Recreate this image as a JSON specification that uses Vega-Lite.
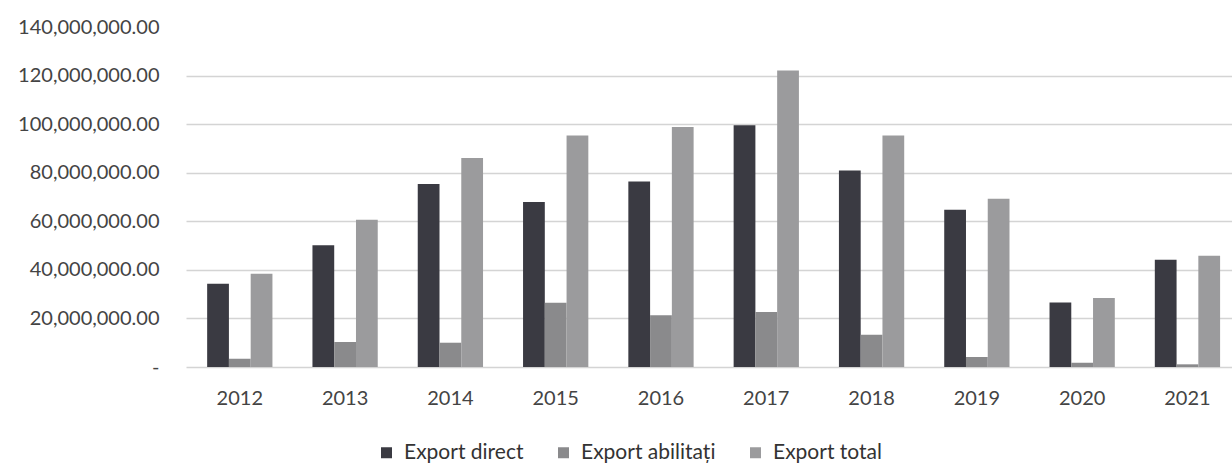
{
  "$schema": "https://vega.github.io/schema/vega-lite/v6.json",
  "autosize": "none",
  "width": 1046,
  "height": 340,
  "padding": {"left": 186, "top": 27, "right": 0, "bottom": 96},
  "background": "white",
  "config": {
    "view": {"stroke": null},
    "font": "Lato"
  },
  "data": {
    "values": [
      {"year": "2012", "series": "Export direct", "value": 34300000},
      {"year": "2012", "series": "Export abilitați", "value": 3400000},
      {"year": "2012", "series": "Export total", "value": 38400000},
      {"year": "2013", "series": "Export direct", "value": 50100000},
      {"year": "2013", "series": "Export abilitați", "value": 10300000},
      {"year": "2013", "series": "Export total", "value": 60600000},
      {"year": "2014", "series": "Export direct", "value": 75400000},
      {"year": "2014", "series": "Export abilitați", "value": 10000000},
      {"year": "2014", "series": "Export total", "value": 86100000},
      {"year": "2015", "series": "Export direct", "value": 67900000},
      {"year": "2015", "series": "Export abilitați", "value": 26500000},
      {"year": "2015", "series": "Export total", "value": 95300000},
      {"year": "2016", "series": "Export direct", "value": 76400000},
      {"year": "2016", "series": "Export abilitați", "value": 21300000},
      {"year": "2016", "series": "Export total", "value": 98800000},
      {"year": "2017", "series": "Export direct", "value": 99500000},
      {"year": "2017", "series": "Export abilitați", "value": 22600000},
      {"year": "2017", "series": "Export total", "value": 122100000},
      {"year": "2018", "series": "Export direct", "value": 80900000},
      {"year": "2018", "series": "Export abilitați", "value": 13300000},
      {"year": "2018", "series": "Export total", "value": 95300000},
      {"year": "2019", "series": "Export direct", "value": 64700000},
      {"year": "2019", "series": "Export abilitați", "value": 4100000},
      {"year": "2019", "series": "Export total", "value": 69300000},
      {"year": "2020", "series": "Export direct", "value": 26600000},
      {"year": "2020", "series": "Export abilitați", "value": 1800000},
      {"year": "2020", "series": "Export total", "value": 28400000},
      {"year": "2021", "series": "Export direct", "value": 44200000},
      {"year": "2021", "series": "Export abilitați", "value": 1100000},
      {"year": "2021", "series": "Export total", "value": 45800000}
    ]
  },
  "mark": {"type": "bar"},
  "encoding": {
    "x": {
      "field": "year",
      "type": "nominal",
      "scale": {"paddingInner": 0.38, "paddingOuter": 0.157, "align": 0.64},
      "axis": {
        "title": null,
        "labelAngle": 0,
        "ticks": false,
        "domain": false,
        "labelFontSize": 20,
        "labelColor": "#444444",
        "labelPadding": 21
      }
    },
    "xOffset": {
      "field": "series",
      "type": "nominal",
      "sort": ["Export direct", "Export abilitați", "Export total"],
      "scale": {"paddingInner": 0, "paddingOuter": 0}
    },
    "y": {
      "field": "value",
      "type": "quantitative",
      "scale": {"domain": [0, 140000000], "nice": false},
      "axis": {
        "title": null,
        "values": [0, 20000000, 40000000, 60000000, 80000000, 100000000, 120000000, 140000000],
        "labelExpr": "datum.value == 0 ? '-' : format(datum.value, ',.2f')",
        "ticks": false,
        "domain": false,
        "labelFontSize": 20,
        "labelColor": "#444444",
        "labelPadding": 27,
        "gridColor": {"condition": {"test": "datum.value == 140000000", "value": "transparent"}, "value": "#d4d4d4"},
        "gridWidth": 1.5
      }
    },
    "color": {
      "field": "series",
      "type": "nominal",
      "sort": ["Export direct", "Export abilitați", "Export total"],
      "scale": {
        "domain": ["Export direct", "Export abilitați", "Export total"],
        "range": ["#3a3a42", "#8a8a8c", "#9b9b9d"]
      },
      "legend": {
        "title": null,
        "orient": "none",
        "direction": "horizontal",
        "legendX": 190,
        "legendY": 415,
        "symbolType": "square",
        "symbolSize": 121,
        "symbolStrokeWidth": 0,
        "labelFontSize": 21,
        "labelColor": "#333333",
        "labelOffset": 7,
        "columnPadding": 29
      }
    }
  }
}
